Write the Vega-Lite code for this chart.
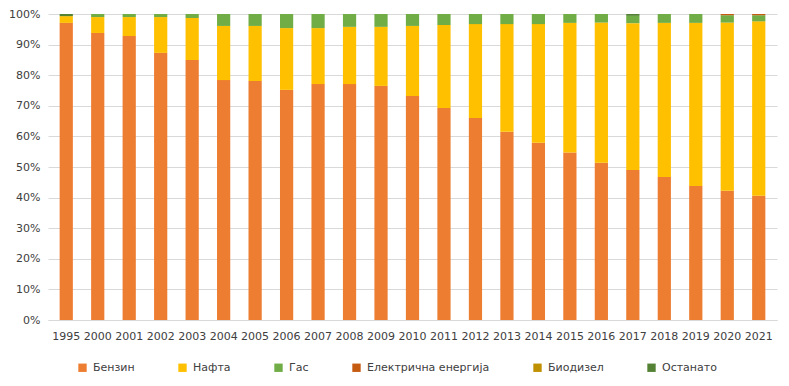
{
  "$schema": "https://vega.github.io/schema/vega-lite/v6.json",
  "width": 729,
  "height": 306,
  "autosize": {"type": "none"},
  "padding": {"left": 48, "top": 14, "right": 12, "bottom": 66},
  "background": "white",
  "config": {
    "view": {"stroke": null},
    "font": "DejaVu Sans"
  },
  "data": {
    "values": [
      {"year": "1995", "type": "Бензин", "share": 97.1},
      {"year": "1995", "type": "Нафта", "share": 2.2},
      {"year": "1995", "type": "Останато", "share": 0.7},
      {"year": "2000", "type": "Бензин", "share": 93.8},
      {"year": "2000", "type": "Нафта", "share": 5.2},
      {"year": "2000", "type": "Гас", "share": 1.0},
      {"year": "2001", "type": "Бензин", "share": 92.8},
      {"year": "2001", "type": "Нафта", "share": 6.2},
      {"year": "2001", "type": "Гас", "share": 1.0},
      {"year": "2002", "type": "Бензин", "share": 87.3},
      {"year": "2002", "type": "Нафта", "share": 11.7},
      {"year": "2002", "type": "Гас", "share": 1.0},
      {"year": "2003", "type": "Бензин", "share": 85.0},
      {"year": "2003", "type": "Нафта", "share": 13.7},
      {"year": "2003", "type": "Гас", "share": 1.3},
      {"year": "2004", "type": "Бензин", "share": 78.4},
      {"year": "2004", "type": "Нафта", "share": 17.7},
      {"year": "2004", "type": "Гас", "share": 3.9},
      {"year": "2005", "type": "Бензин", "share": 78.1},
      {"year": "2005", "type": "Нафта", "share": 18.0},
      {"year": "2005", "type": "Гас", "share": 3.9},
      {"year": "2006", "type": "Бензин", "share": 75.2},
      {"year": "2006", "type": "Нафта", "share": 20.2},
      {"year": "2006", "type": "Гас", "share": 4.6},
      {"year": "2007", "type": "Бензин", "share": 77.1},
      {"year": "2007", "type": "Нафта", "share": 18.3},
      {"year": "2007", "type": "Гас", "share": 4.6},
      {"year": "2008", "type": "Бензин", "share": 77.1},
      {"year": "2008", "type": "Нафта", "share": 18.7},
      {"year": "2008", "type": "Гас", "share": 4.2},
      {"year": "2009", "type": "Бензин", "share": 76.5},
      {"year": "2009", "type": "Нафта", "share": 19.3},
      {"year": "2009", "type": "Гас", "share": 4.2},
      {"year": "2010", "type": "Бензин", "share": 73.2},
      {"year": "2010", "type": "Нафта", "share": 22.9},
      {"year": "2010", "type": "Гас", "share": 3.9},
      {"year": "2011", "type": "Бензин", "share": 69.3},
      {"year": "2011", "type": "Нафта", "share": 27.1},
      {"year": "2011", "type": "Гас", "share": 3.6},
      {"year": "2012", "type": "Бензин", "share": 66.0},
      {"year": "2012", "type": "Нафта", "share": 30.7},
      {"year": "2012", "type": "Гас", "share": 3.3},
      {"year": "2013", "type": "Бензин", "share": 61.5},
      {"year": "2013", "type": "Нафта", "share": 35.2},
      {"year": "2013", "type": "Гас", "share": 3.3},
      {"year": "2014", "type": "Бензин", "share": 57.9},
      {"year": "2014", "type": "Нафта", "share": 38.8},
      {"year": "2014", "type": "Гас", "share": 3.3},
      {"year": "2015", "type": "Бензин", "share": 54.7},
      {"year": "2015", "type": "Нафта", "share": 42.4},
      {"year": "2015", "type": "Гас", "share": 2.9},
      {"year": "2016", "type": "Бензин", "share": 51.4},
      {"year": "2016", "type": "Нафта", "share": 45.8},
      {"year": "2016", "type": "Гас", "share": 2.8},
      {"year": "2017", "type": "Бензин", "share": 49.0},
      {"year": "2017", "type": "Нафта", "share": 48.0},
      {"year": "2017", "type": "Гас", "share": 2.4},
      {"year": "2017", "type": "Останато", "share": 0.6},
      {"year": "2018", "type": "Бензин", "share": 46.7},
      {"year": "2018", "type": "Нафта", "share": 50.4},
      {"year": "2018", "type": "Гас", "share": 2.9},
      {"year": "2019", "type": "Бензин", "share": 43.8},
      {"year": "2019", "type": "Нафта", "share": 53.3},
      {"year": "2019", "type": "Гас", "share": 2.9},
      {"year": "2020", "type": "Бензин", "share": 42.2},
      {"year": "2020", "type": "Нафта", "share": 55.0},
      {"year": "2020", "type": "Гас", "share": 2.4},
      {"year": "2020", "type": "Електрична енергија", "share": 0.4},
      {"year": "2021", "type": "Бензин", "share": 40.6},
      {"year": "2021", "type": "Нафта", "share": 57.0},
      {"year": "2021", "type": "Гас", "share": 2.0},
      {"year": "2021", "type": "Електрична енергија", "share": 0.4}
    ]
  },
  "transform": [
    {"calculate": "indexof(['Бензин', 'Нафта', 'Гас', 'Електрична енергија', 'Биодизел', 'Останато'], datum.type)", "as": "stackOrder"}
  ],
  "mark": {"type": "bar"},
  "encoding": {
    "x": {
      "field": "year",
      "type": "nominal",
      "scale": {"paddingInner": 0.58, "paddingOuter": 0.37},
      "axis": {
        "title": null,
        "labelAngle": 0,
        "ticks": false,
        "domainColor": "#D9D9D9",
        "labelColor": "#404040",
        "labelFontSize": 11,
        "labelPadding": 10
      }
    },
    "y": {
      "field": "share",
      "type": "quantitative",
      "stack": "normalize",
      "scale": {"domain": [0, 1]},
      "axis": {
        "title": null,
        "format": ".0%",
        "values": [0, 0.1, 0.2, 0.3, 0.4, 0.5, 0.6, 0.7, 0.8, 0.9, 1],
        "ticks": false,
        "domain": false,
        "gridColor": "#D9D9D9",
        "labelColor": "#404040",
        "labelFontSize": 11,
        "labelPadding": 8
      }
    },
    "order": {"field": "stackOrder", "type": "quantitative", "sort": "ascending"},
    "color": {
      "field": "type",
      "type": "nominal",
      "sort": ["Бензин", "Нафта", "Гас", "Електрична енергија", "Биодизел", "Останато"],
      "scale": {
        "domain": ["Бензин", "Нафта", "Гас", "Електрична енергија", "Биодизел", "Останато"],
        "range": ["#ED7D31", "#FFC000", "#70AD47", "#C55A11", "#BF9000", "#548235"]
      },
      "legend": {
        "title": null,
        "orient": "none",
        "direction": "horizontal",
        "legendX": 29,
        "legendY": 348,
        "symbolType": "square",
        "symbolSize": 70,
        "symbolStrokeWidth": 0,
        "labelFontSize": 11,
        "labelColor": "#404040",
        "columnPadding": 42,
        "labelOffset": 5
      }
    }
  }
}
